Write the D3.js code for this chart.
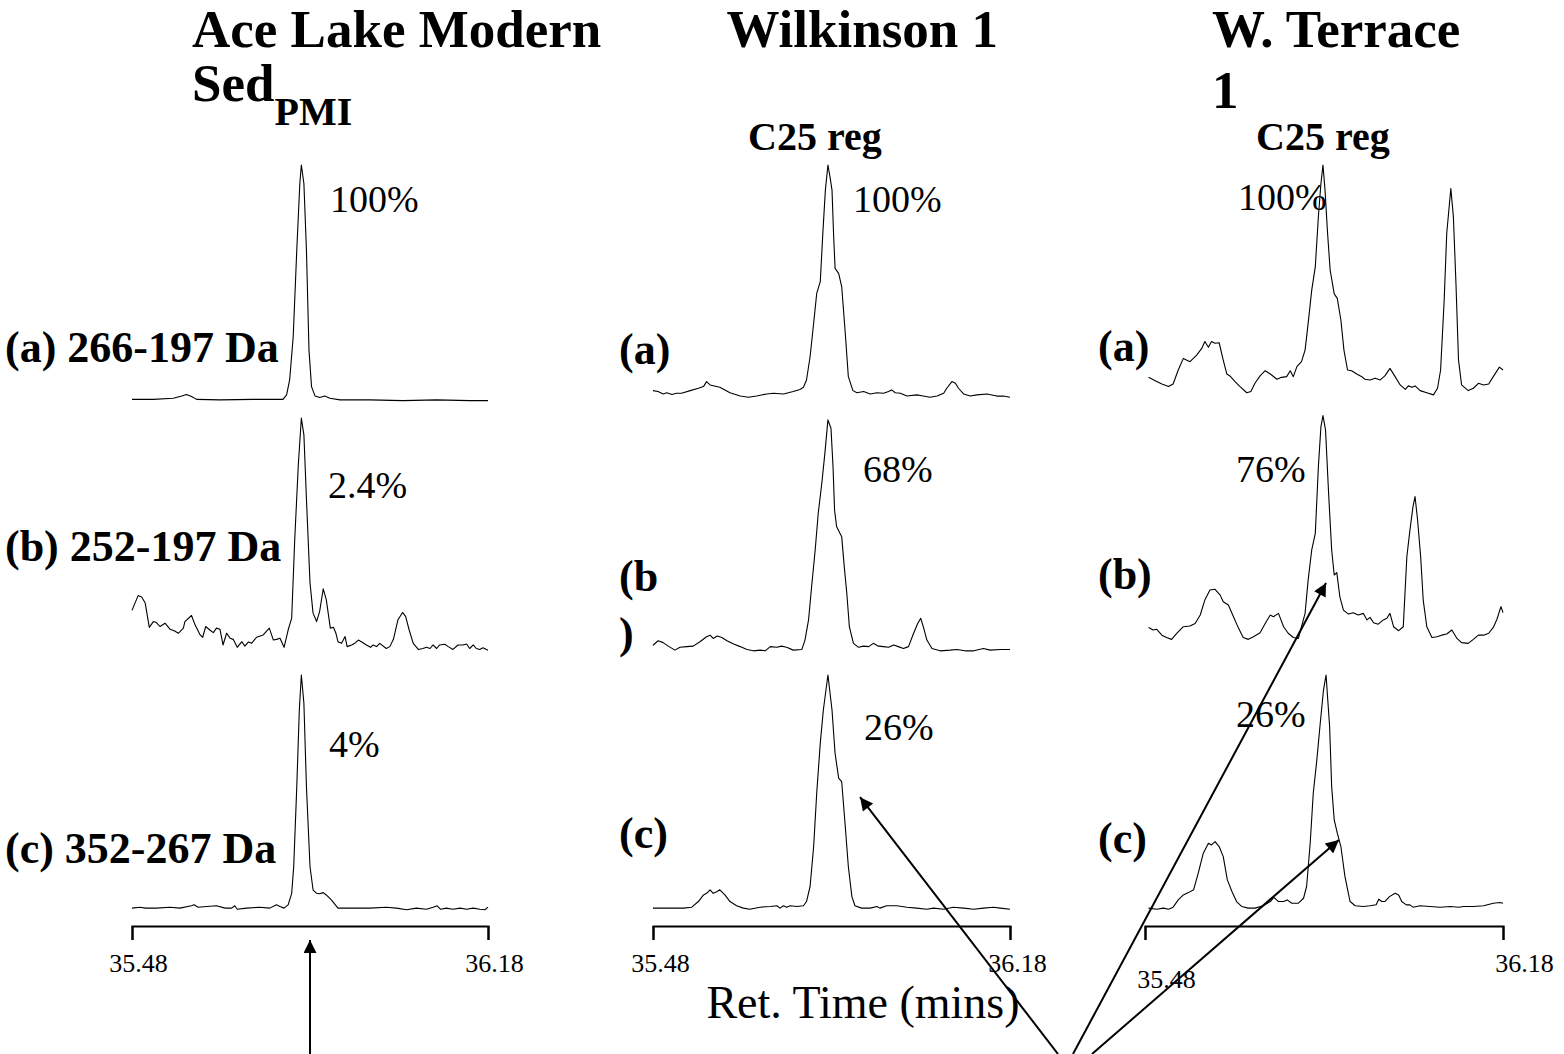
<!DOCTYPE html>
<html>
<head>
<meta charset="utf-8">
<script src="https://cdn.jsdelivr.net/npm/d3@7"></script>
<style>
  body { margin: 0; background: #fff; }
  text { font-family: "Liberation Serif", "Times New Roman", serif; fill: #000; }
</style>
</head>
<body>
<script>
// retention time window shared by all nine traces (mins)
var timeDomain = [35.48, 36.18];
var tickValues = [35.48, 36.18];

var columnTitles = ["Ace Lake Modern", "Wilkinson 1", "W. Terrace"];
var rowLabelsAce = ["(a) 266-197 Da", "(b) 252-197 Da", "(c) 352-267 Da"];
var rowLabelsWilk = ["(a)", "(b", "(c)"];
var rowLabelsTerr = ["(a)", "(b)", "(c)"];
var pctAce = ["100%", "2.4%", "4%"];
var pctWilk = ["100%", "68%", "26%"];
var pctTerr = ["100%", "76%", "26%"];

// [time, relative intensity %]
var aceA = [[35.480,1.1],[35.522,1.1],[35.561,1.6],[35.578,2.5],[35.587,3.2],[35.597,2.3],[35.607,1.1],[35.653,0.9],[35.718,1.1],[35.777,1.1],[35.784,3.0],[35.790,9.3],[35.797,27.6],[35.804,64.1],[35.810,92.2],[35.813,100],[35.818,92.2],[35.823,64.1],[35.828,21.9],[35.833,6.5],[35.840,2.5],[35.849,1.9],[35.859,2.5],[35.869,1.6],[35.889,0.9],[35.948,0.9],[36.013,0.6],[36.079,0.9],[36.144,0.6],[36.180,0.6]];
var aceB = [[35.480,17.8],[35.492,24.1],[35.499,23.5],[35.506,20.9],[35.514,10.5],[35.522,13.0],[35.528,12.6],[35.535,10.9],[35.545,12.3],[35.555,9.7],[35.564,9.0],[35.571,8.0],[35.581,10.2],[35.584,13.0],[35.597,15.6],[35.604,11.6],[35.614,7.3],[35.619,6.3],[35.625,10.9],[35.633,9.4],[35.640,8.3],[35.646,10.2],[35.653,9.7],[35.659,3.0],[35.666,8.0],[35.673,5.9],[35.679,5.4],[35.687,2.0],[35.696,4.4],[35.702,2.5],[35.709,4.3],[35.715,3.7],[35.725,6.3],[35.738,7.3],[35.750,10.2],[35.758,5.1],[35.764,5.4],[35.771,5.9],[35.779,2.0],[35.787,9.4],[35.794,14.5],[35.800,48.2],[35.807,79.9],[35.813,100],[35.818,92.8],[35.823,65.5],[35.830,29.6],[35.836,16.6],[35.843,13.0],[35.849,17.4],[35.856,27.0],[35.862,22.4],[35.870,10.2],[35.876,10.6],[35.881,8.0],[35.885,4.4],[35.892,3.7],[35.899,6.6],[35.903,2.3],[35.912,3.0],[35.918,3.7],[35.925,5.1],[35.931,4.4],[35.941,3.0],[35.949,2.0],[35.954,3.0],[35.961,2.3],[35.967,3.7],[35.980,1.5],[35.987,2.3],[35.994,5.4],[36.003,13.8],[36.012,16.9],[36.018,15.2],[36.025,9.4],[36.033,3.7],[36.043,1.1],[36.052,1.5],[36.059,2.0],[36.066,1.5],[36.072,3.0],[36.079,1.5],[36.085,3.0],[36.095,3.3],[36.102,2.3],[36.111,1.1],[36.121,3.0],[36.131,3.0],[36.138,3.4],[36.144,1.5],[36.151,3.0],[36.157,1.5],[36.164,1.1],[36.170,1.8],[36.180,0.8]];
var aceC = [[35.480,0.8],[35.496,1.2],[35.506,0.8],[35.528,0.8],[35.555,1.2],[35.574,0.8],[35.597,1.8],[35.602,2.2],[35.610,1.2],[35.627,1.5],[35.646,1.8],[35.663,0.8],[35.676,0.8],[35.682,1.8],[35.687,0.3],[35.705,0.8],[35.731,1.2],[35.751,0.8],[35.764,2.2],[35.771,1.5],[35.779,0.8],[35.787,2.2],[35.794,7.1],[35.798,18.5],[35.804,52.5],[35.809,85.1],[35.813,100],[35.818,88.0],[35.823,52.5],[35.830,18.5],[35.836,8.6],[35.843,7.1],[35.849,6.9],[35.856,7.4],[35.862,6.4],[35.872,4.3],[35.885,0.8],[35.915,0.8],[35.948,0.8],[35.980,1.2],[36.000,0.8],[36.020,0.1],[36.039,0.8],[36.059,0.3],[36.072,1.2],[36.080,1.8],[36.087,0.3],[36.098,0.8],[36.111,0.3],[36.125,0.8],[36.138,0.3],[36.151,0.8],[36.164,0.3],[36.174,0.1],[36.180,1.2]];

var wilkA = [[35.480,4.8],[35.490,4.4],[35.500,3.4],[35.507,3.9],[35.517,3.2],[35.526,3.7],[35.536,3.7],[35.553,4.8],[35.569,5.8],[35.579,6.5],[35.585,8.6],[35.592,7.2],[35.611,6.2],[35.631,3.9],[35.651,2.5],[35.667,2.0],[35.683,2.5],[35.703,3.4],[35.716,3.7],[35.736,3.4],[35.755,4.4],[35.768,5.3],[35.775,6.2],[35.781,9.3],[35.788,19.1],[35.795,33.2],[35.801,45.8],[35.808,50.8],[35.813,71.2],[35.818,89.4],[35.823,100],[35.827,95.1],[35.831,89.4],[35.834,71.2],[35.837,56.4],[35.844,54.3],[35.850,48.7],[35.857,29.0],[35.863,10.7],[35.872,4.8],[35.880,3.9],[35.893,4.4],[35.906,3.4],[35.919,3.9],[35.932,3.7],[35.942,4.4],[35.948,5.1],[35.955,3.9],[35.965,3.7],[35.978,2.5],[35.997,3.0],[36.010,2.5],[36.023,2.0],[36.037,2.5],[36.050,3.7],[36.056,5.8],[36.066,8.6],[36.073,7.9],[36.079,5.8],[36.089,3.4],[36.102,2.5],[36.115,3.0],[36.135,3.4],[36.154,2.5],[36.167,2.5],[36.180,2.0]];
var wilkB = [[35.480,2.9],[35.490,4.8],[35.500,4.0],[35.510,2.5],[35.523,0.8],[35.533,2.0],[35.546,2.3],[35.559,2.5],[35.572,4.4],[35.585,6.5],[35.592,7.2],[35.598,5.8],[35.606,6.8],[35.615,6.2],[35.625,4.8],[35.638,3.4],[35.651,2.3],[35.664,1.1],[35.677,0.5],[35.690,0.8],[35.700,0.5],[35.710,2.3],[35.723,2.0],[35.732,2.5],[35.742,2.0],[35.755,0.8],[35.772,1.1],[35.778,5.1],[35.785,13.7],[35.791,27.9],[35.798,43.6],[35.804,59.3],[35.811,72.1],[35.817,84.9],[35.823,99.2],[35.829,95.6],[35.833,79.2],[35.836,60.7],[35.840,53.6],[35.845,51.4],[35.850,49.3],[35.855,36.5],[35.860,25.1],[35.865,10.8],[35.873,3.7],[35.883,2.0],[35.893,2.5],[35.903,2.3],[35.912,3.7],[35.922,2.5],[35.932,2.3],[35.942,2.0],[35.952,3.0],[35.961,2.3],[35.971,1.5],[35.981,2.3],[35.991,8.0],[35.999,12.2],[36.005,14.4],[36.010,10.8],[36.017,5.1],[36.027,1.5],[36.043,0.5],[36.063,0.8],[36.076,1.1],[36.092,0.5],[36.109,0.5],[36.128,1.5],[36.141,0.8],[36.161,1.1],[36.180,1.1]];
var wilkC = [[35.480,0.8],[35.507,0.8],[35.540,0.8],[35.556,1.2],[35.569,3.6],[35.579,6.4],[35.585,7.1],[35.592,8.6],[35.598,7.1],[35.605,7.8],[35.611,8.6],[35.621,6.4],[35.631,3.6],[35.644,1.8],[35.657,0.8],[35.670,0.3],[35.690,1.2],[35.710,1.5],[35.723,1.8],[35.729,0.8],[35.736,1.8],[35.742,1.2],[35.749,1.8],[35.762,1.5],[35.775,1.8],[35.781,3.6],[35.788,10.0],[35.795,27.0],[35.801,49.7],[35.808,71.0],[35.814,85.1],[35.823,100],[35.831,85.1],[35.837,66.7],[35.844,56.1],[35.850,54.6],[35.857,35.5],[35.863,18.5],[35.870,5.7],[35.876,1.8],[35.889,0.8],[35.906,0.8],[35.919,1.5],[35.925,0.8],[35.938,1.8],[35.958,1.8],[35.978,1.2],[35.997,0.8],[36.017,0.3],[36.030,0.8],[36.050,0.3],[36.069,1.2],[36.089,0.8],[36.109,0.3],[36.128,0.8],[36.148,1.2],[36.161,0.8],[36.180,0.3]];

var terrA = [[35.487,10.4],[35.500,9.0],[35.513,7.6],[35.526,6.5],[35.535,7.6],[35.545,13.5],[35.555,18.4],[35.568,17.0],[35.581,19.8],[35.591,22.6],[35.597,25.5],[35.604,23.1],[35.610,25.5],[35.617,24.8],[35.625,25.0],[35.633,17.7],[35.640,11.8],[35.646,11.0],[35.656,8.6],[35.666,6.5],[35.679,3.9],[35.687,4.4],[35.695,7.9],[35.705,11.0],[35.715,13.2],[35.725,11.8],[35.738,9.6],[35.747,10.4],[35.757,10.7],[35.764,13.2],[35.770,10.7],[35.777,14.9],[35.786,17.0],[35.793,21.9],[35.799,33.2],[35.806,47.2],[35.813,57.1],[35.819,78.2],[35.824,92.2],[35.828,100],[35.832,89.4],[35.837,71.2],[35.842,55.7],[35.850,45.6],[35.856,43.7],[35.863,34.6],[35.869,21.9],[35.876,13.5],[35.884,13.2],[35.894,11.8],[35.904,10.7],[35.910,9.6],[35.920,9.3],[35.930,10.0],[35.940,9.3],[35.949,11.0],[35.959,14.2],[35.969,10.7],[35.979,7.2],[35.989,5.3],[35.995,6.8],[36.002,6.2],[36.008,6.8],[36.018,4.8],[36.031,3.9],[36.044,3.0],[36.052,5.8],[36.058,13.5],[36.065,43.0],[36.070,71.2],[36.078,90.1],[36.083,78.2],[36.088,50.1],[36.093,17.7],[36.099,7.2],[36.112,4.8],[36.122,5.8],[36.132,7.9],[36.142,7.2],[36.152,7.6],[36.161,10.7],[36.173,14.7],[36.180,13.5]];
var terrB = [[35.487,10.5],[35.496,9.4],[35.503,9.7],[35.513,7.2],[35.522,6.2],[35.532,5.4],[35.542,8.0],[35.555,10.8],[35.568,11.1],[35.578,12.2],[35.588,15.8],[35.597,22.2],[35.607,26.5],[35.617,26.8],[35.627,24.3],[35.633,21.5],[35.643,20.1],[35.653,15.1],[35.663,10.1],[35.672,6.2],[35.682,5.4],[35.692,6.5],[35.705,8.2],[35.715,12.2],[35.725,15.8],[35.731,15.1],[35.741,16.5],[35.751,10.8],[35.760,8.0],[35.770,6.2],[35.780,5.8],[35.786,10.8],[35.793,16.5],[35.799,30.7],[35.806,43.6],[35.813,50.7],[35.819,79.2],[35.824,96.3],[35.828,101],[35.833,94.9],[35.839,67.8],[35.845,43.6],[35.850,32.9],[35.855,33.9],[35.861,23.6],[35.868,17.9],[35.878,16.2],[35.887,16.8],[35.897,15.8],[35.907,16.5],[35.914,13.7],[35.920,14.8],[35.927,12.5],[35.936,11.9],[35.946,13.7],[35.953,14.4],[35.959,16.5],[35.966,10.8],[35.976,9.1],[35.985,10.8],[35.992,40.7],[35.998,52.1],[36.004,62.1],[36.008,66.4],[36.013,56.4],[36.019,40.7],[36.024,22.2],[36.031,10.8],[36.041,6.2],[36.051,6.5],[36.060,7.2],[36.070,7.7],[36.080,9.4],[36.090,5.8],[36.099,4.0],[36.112,3.7],[36.122,5.4],[36.132,7.2],[36.142,7.2],[36.152,8.0],[36.161,10.5],[36.168,13.9],[36.176,19.4],[36.180,16.8]];
var terrC = [[35.487,0.8],[35.503,0.3],[35.516,0.8],[35.526,0.3],[35.535,1.2],[35.545,4.3],[35.555,6.4],[35.565,7.4],[35.575,8.6],[35.584,15.6],[35.594,24.2],[35.604,28.4],[35.610,27.7],[35.617,29.1],[35.625,27.0],[35.633,22.7],[35.641,12.8],[35.650,7.9],[35.659,3.6],[35.669,1.5],[35.682,0.8],[35.695,0.8],[35.711,1.8],[35.725,3.6],[35.732,5.4],[35.741,3.6],[35.751,3.6],[35.758,4.3],[35.767,2.9],[35.780,2.9],[35.790,5.0],[35.796,10.0],[35.803,28.4],[35.809,49.7],[35.816,63.9],[35.822,78.0],[35.829,93.6],[35.834,100],[35.841,78.0],[35.845,52.5],[35.850,38.3],[35.856,32.7],[35.863,27.0],[35.871,14.2],[35.881,3.6],[35.891,1.8],[35.907,1.5],[35.920,1.8],[35.932,2.2],[35.937,4.6],[35.943,3.6],[35.949,3.6],[35.958,5.7],[35.969,7.1],[35.976,6.4],[35.982,3.6],[35.991,2.2],[35.998,2.2],[36.004,1.2],[36.018,1.8],[36.037,1.5],[36.057,1.2],[36.077,1.5],[36.093,1.2],[36.103,1.5],[36.122,1.5],[36.142,1.8],[36.161,2.9],[36.174,3.2],[36.180,2.9]];

// arrows: [column, row, time, intensity] of the tip
var arrowTargets = [[1, 2, 35.886, 48], [2, 1, 35.834, 29.5], [2, 2, 35.859, 29.8]];

var width = 1564, height = 1054;
var svg = d3.select("body").append("svg").attr("width", width).attr("height", height);

svg.append("defs").append("marker")
  .attr("id", "head")
  .attr("viewBox", "0 0 10 10")
  .attr("refX", 10).attr("refY", 5)
  .attr("markerUnits", "userSpaceOnUse")
  .attr("markerWidth", 17).attr("markerHeight", 13)
  .attr("orient", "auto")
  .append("path").attr("d", "M0,0L10,5L0,10z").attr("fill", "#000");

var rowY = [[402, 165], [652, 418], [910, 675]];
var axisY = 926;

var panels = [
  {range: [132, 488], traces: [aceA, aceB, aceC], labels: rowLabelsAce, pct: pctAce,
   labelPos: [[5, 362], [5, 561], [5, 863]], pctPos: [[330, 212], [328, 498], [329, 757]], tickDx: 6},
  {range: [653, 1010], traces: [wilkA, wilkB, wilkC], labels: rowLabelsWilk, pct: pctWilk,
   labelPos: [[619, 364], [619, 591], [619, 848]], pctPos: [[853, 212], [863, 482], [864, 740]], tickDx: 7},
  {range: [1145, 1503], traces: [terrA, terrB, terrC], labels: rowLabelsTerr, pct: pctTerr,
   labelPos: [[1098, 361], [1098, 589], [1098, 853]], pctPos: [[1238, 210], [1236, 482], [1236, 727]], tickDx: 21}
];

panels.forEach(function(p, c) {
  var x = d3.scaleLinear().domain(timeDomain).range(p.range);
  p.x = x;
  p.y = [];
  p.traces.forEach(function(tr, r) {
    var y = d3.scaleLinear().domain([0, 100]).range(rowY[r]);
    p.y.push(y);
    var line = d3.line().x(function(d){ return x(d[0]); }).y(function(d){ return y(d[1]); });
    svg.append("path").datum(tr)
      .attr("d", line)
      .attr("fill", "none")
      .attr("stroke", "#000")
      .attr("stroke-width", 1.1)
      .attr("stroke-linejoin", "round");

    svg.append("text")
      .attr("x", p.labelPos[r][0]).attr("y", p.labelPos[r][1])
      .attr("font-size", 44).attr("font-weight", "bold")
      .text(p.labels[r]);

    svg.append("text")
      .attr("x", p.pctPos[r][0]).attr("y", p.pctPos[r][1])
      .attr("font-size", 38)
      .text(p.pct[r]);
  });

  var axis = d3.axisBottom(x)
    .tickValues(tickValues)
    .tickFormat(d3.format(".2f"))
    .tickSize(14).tickSizeOuter(14)
    .tickPadding(14);
  var g = svg.append("g").attr("transform", "translate(0," + axisY + ")").call(axis);
  g.attr("font-family", null).attr("font-size", null);
  g.selectAll("path, line").attr("stroke", "#000").attr("stroke-width", 2);
  g.selectAll("text")
    .attr("font-size", 26)
    .attr("dx", p.tickDx)
    .attr("dy", function(d, i){ return (c === 2 && i === 0) ? "1.3em" : "0.71em"; });
});

// the broken "(b" label in the middle column wraps its bracket onto the next line
svg.append("text").attr("x", 619).attr("y", 648)
  .attr("font-size", 44).attr("font-weight", "bold").text(")");

// headings
svg.append("text").attr("x", 192).attr("y", 47)
  .attr("font-size", 53).attr("font-weight", "bold").text(columnTitles[0]);
var sed = svg.append("text").attr("x", 192).attr("y", 101)
  .attr("font-size", 53).attr("font-weight", "bold");
sed.append("tspan").text("Sed");
sed.append("tspan").attr("dy", 24).attr("font-size", 40).text("PMI");

svg.append("text").attr("x", 998).attr("y", 47).attr("text-anchor", "end")
  .attr("font-size", 53).attr("font-weight", "bold").text(columnTitles[1]);
svg.append("text").attr("x", 1212).attr("y", 47)
  .attr("font-size", 53).attr("font-weight", "bold").text(columnTitles[2]);
svg.append("text").attr("x", 1212).attr("y", 108)
  .attr("font-size", 53).attr("font-weight", "bold").text("1");

svg.append("text").attr("x", 748).attr("y", 150)
  .attr("font-size", 40).attr("font-weight", "bold").text("C25 reg");
svg.append("text").attr("x", 1256).attr("y", 150)
  .attr("font-size", 40).attr("font-weight", "bold").text("C25 reg");

svg.append("text").attr("x", 863).attr("y", 1018).attr("text-anchor", "middle")
  .attr("font-size", 46).text("Ret. Time (mins)");

// arrows
function arrow(x1, y1, x2, y2) {
  svg.append("line")
    .attr("x1", x1).attr("y1", y1).attr("x2", x2).attr("y2", y2)
    .attr("stroke", "#000").attr("stroke-width", 2)
    .attr("marker-end", "url(#head)");
}
arrow(panels[0].x(35.83), height, panels[0].x(35.83), axisY + 14);
var arrowStarts = [[1058, height], [1073, height], [1092, height]];
arrowTargets.forEach(function(a, i) {
  var p = panels[a[0]];
  arrow(arrowStarts[i][0], arrowStarts[i][1], p.x(a[2]), p.y[a[1]](a[3]));
});
</script>
</body>
</html>
